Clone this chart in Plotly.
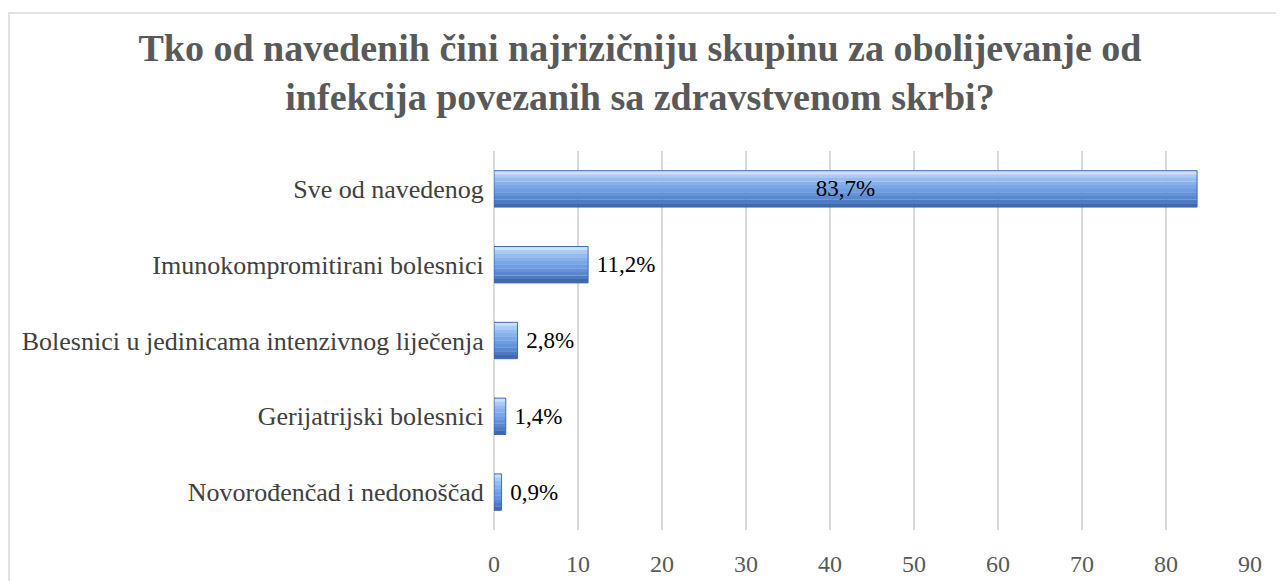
import plotly.graph_objects as go

categories = ["Novorođenčad i nedonoščad", "Gerijatrijski bolesnici",
              "Bolesnici u jedinicama intenzivnog liječenja",
              "Imunokompromitirani bolesnici", "Sve od navedenog"]
values = [0.9, 1.4, 2.8, 11.2, 83.7]
labels = ["0,9%", "1,4%", "2,8%", "11,2%", "83,7%"]
x_ticks = [0, 10, 20, 30, 40, 50, 60, 70, 80, 90]

positions = ["outside", "outside", "outside", "outside", "inside"]
shown_labels = [(" " + t) if p == "outside" else t for t, p in zip(labels, positions)]

fig = go.Figure()

# gradient bands (top light -> bottom dark)
band_colors = ["#C9E0FA", "#ABCBF5", "#95BCF0", "#86B1EB", "#7AA7E6",
               "#6F9DE0", "#6593D8", "#5A88CE", "#4D7BC1", "#3E6AAD"]
half = 0.24
bw = 2 * half / len(band_colors)
for i, c in enumerate(band_colors):
    off = half - (i + 1) * bw
    fig.add_trace(go.Bar(
        y=categories, x=values, orientation="h",
        width=bw * 1.05, offset=off, marker=dict(color=c, line=dict(width=0)),
        hoverinfo="skip", showlegend=False))

# outline + labels
fig.add_trace(go.Bar(
    y=categories, x=values, orientation="h", width=2 * half,
    marker=dict(color="rgba(0,0,0,0)", line=dict(color="#3F6DAE", width=1)),
    text=shown_labels,
    textposition=positions,
    insidetextanchor="middle",
    textfont=dict(family="Liberation Serif", size=23, color="#000000"),
    cliponaxis=False, showlegend=False))

# page body has 8px margin: coordinates below are relative to the figure
fig.update_layout(
    barmode="overlay",
    width=1284, height=581,
    margin=dict(l=486, r=42, t=143, b=59),
    paper_bgcolor="white", plot_bgcolor="white",
    title=dict(text="<b>Tko od navedenih čini najrizičniju skupinu za obolijevanje od<br>infekcija povezanih sa zdravstvenom skrbi?</b>",
               x=(640 - 8) / 1284, xanchor="center", y=1 - 53 / 581, yanchor="middle",
               font=dict(family="Liberation Serif", size=38, color="#595959")),
    font=dict(family="Liberation Serif"),
    xaxis=dict(range=[0, 90], tickvals=x_ticks, showgrid=True, gridcolor="#D9D9D9",
               gridwidth=1.5, zeroline=True, zerolinecolor="#D9D9D9", zerolinewidth=1.5,
               ticks="outside", ticklen=12, tickcolor="rgba(0,0,0,0)",
               tickfont=dict(family="Liberation Serif", size=24, color="#595959"),
               showline=False, fixedrange=True, automargin=False),
    yaxis=dict(ticks="outside", ticklen=4, tickcolor="rgba(0,0,0,0)",
               tickfont=dict(family="Liberation Serif", size=26, color="#404040"),
               showgrid=False, showline=False, fixedrange=True, automargin=False),
    shapes=[dict(type="rect", xref="paper", yref="paper",
                 x0=(1 - 486) / 756, x1=(1273 - 486) / 756,
                 y0=-0.3, y1=(522 - 5) / 379,
                 line=dict(color="#D9D9D9", width=1.5), fillcolor="rgba(0,0,0,0)",
                 layer="below")],
)

fig.write_html("out.html")
